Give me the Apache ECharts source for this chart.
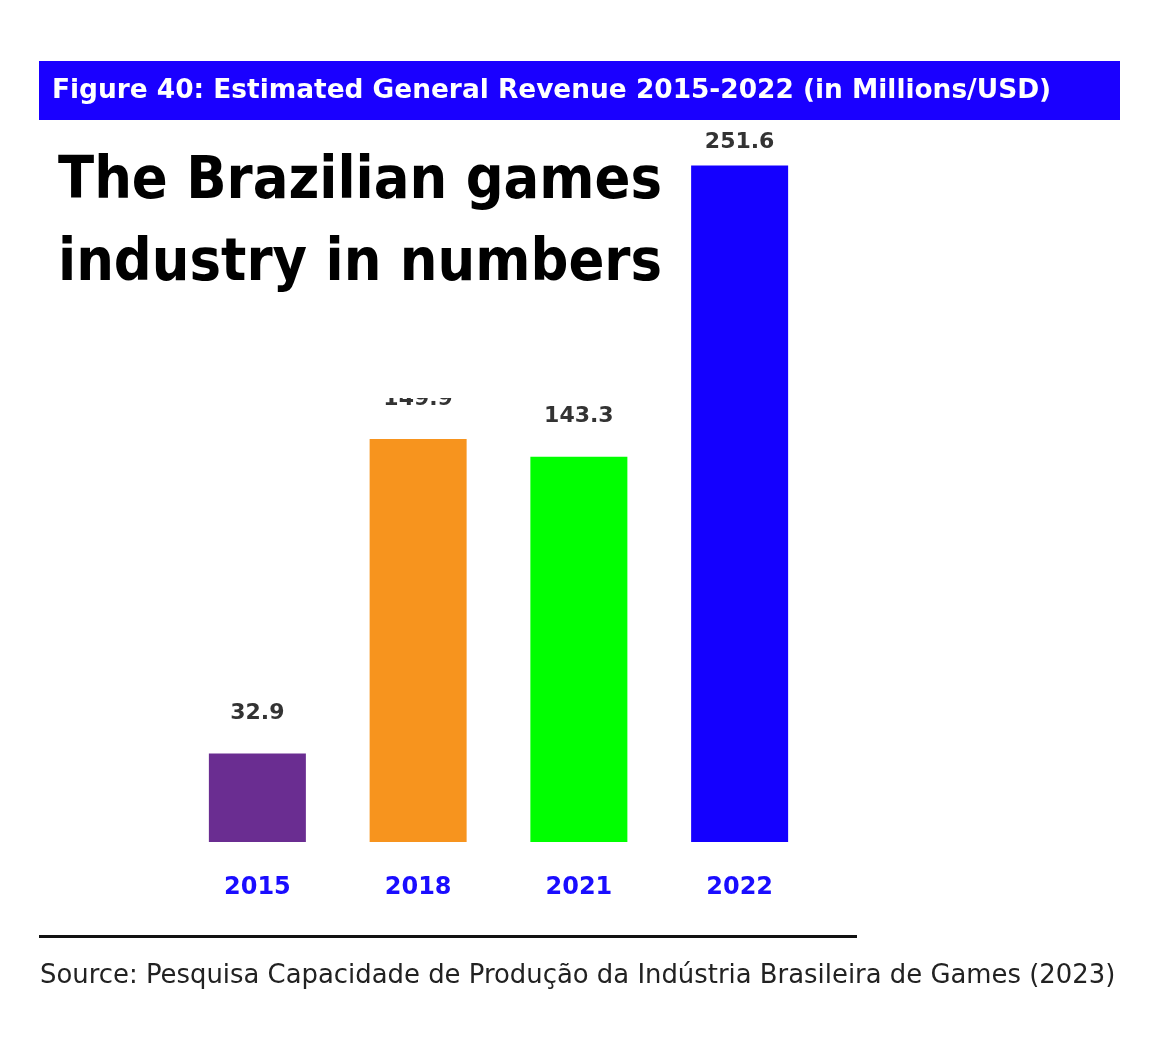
<!DOCTYPE html>
<html>
<head>
<meta charset="utf-8">
<script src="https://cdn.jsdelivr.net/npm/echarts@6/dist/echarts.min.js"></script>
<style>html,body{margin:0;padding:0;background:#fff;}#c{width:1166px;height:1050px;}</style>
</head>
<body>
<div id="c"></div>
<script>
const categories = ['2015', '2018', '2021', '2022'];
const revenue = [32.9, 149.9, 143.3, 251.6];
const barColors = ['#6a2d91', '#f7941e', '#00ff00', '#1400ff'];
const headerText = 'Figure 40: Estimated General Revenue 2015-2022 (in Millions/USD)';
const overlayLines = ['The Brazilian games', 'industry in numbers'];
const sourceText = 'Source: Pesquisa Capacidade de Produção da Indústria Brasileira de Games (2023)';

// helper: pick a font size so that text spans a target width
const mctx = document.createElement('canvas').getContext('2d');
function fitFont(text, weight, family, targetWidth, maxSize) {
  mctx.font = weight + ' 100px ' + family;
  const w = mctx.measureText(text).width;
  const size = Math.min(maxSize, 100 * targetWidth / w);
  return weight + ' ' + size.toFixed(1) + 'px ' + family;
}

const headerFont = fitFont(headerText, 'bold', '"DejaVu Sans"', 998, 30);
const sourceFont = fitFont(sourceText, 'normal', '"DejaVu Sans"', 1075, 26);
const overlayFont = fitFont(overlayLines[0], 'bold', '"DejaVu Sans Condensed"', 604, 64);

const chart = echarts.init(document.getElementById('c'), null, {renderer: 'canvas'});
chart.setOption({
  backgroundColor: '#ffffff',
  animation: false,
  grid: {left: 177, width: 643, top: 143, height: 699},
  xAxis: {
    type: 'category',
    data: categories,
    axisLine: {show: false},
    axisTick: {show: false},
    axisLabel: {
      color: '#1a0dff', fontSize: 24, fontWeight: 'bold',
      fontFamily: 'DejaVu Sans', margin: 34
    }
  },
  yAxis: {
    type: 'value', min: 0, max: 260,
    show: false,
    splitLine: {show: false}
  },
  series: [{
    type: 'bar',
    barWidth: 97,
    data: revenue.map((v, i) => ({
      value: v,
      itemStyle: {color: barColors[i]},
      label: {distance: i === 3 ? 12 : 29}
    })),
    label: {
      show: true, position: 'top',
      color: '#333333', fontSize: 22, fontWeight: 'bold',
      fontFamily: 'DejaVu Sans'
    }
  }],
  graphic: [
    {type: 'rect', shape: {x: 39, y: 61, width: 1081, height: 59}, style: {fill: '#1a00ff'}, z: 10},
    {type: 'text', x: 52, y: 91, style: {text: headerText, fill: '#ffffff', font: headerFont, textVerticalAlign: 'middle'}, z: 11},
    {type: 'rect', shape: {x: 40, y: 126, width: 640, height: 272}, style: {fill: '#ffffff'}, z: 10},
    {type: 'text', x: 58, y: 183, style: {text: overlayLines[0], fill: '#000000', font: overlayFont, textVerticalAlign: 'middle'}, z: 11},
    {type: 'text', x: 58, y: 265, style: {text: overlayLines[1], fill: '#000000', font: overlayFont, textVerticalAlign: 'middle'}, z: 11},
    {type: 'rect', shape: {x: 39, y: 935, width: 818, height: 3}, style: {fill: '#111111'}, z: 10},
    {type: 'text', x: 40, y: 976, style: {text: sourceText, fill: '#222222', font: sourceFont, textVerticalAlign: 'middle'}, z: 11}
  ]
});
</script>
</body>
</html>
